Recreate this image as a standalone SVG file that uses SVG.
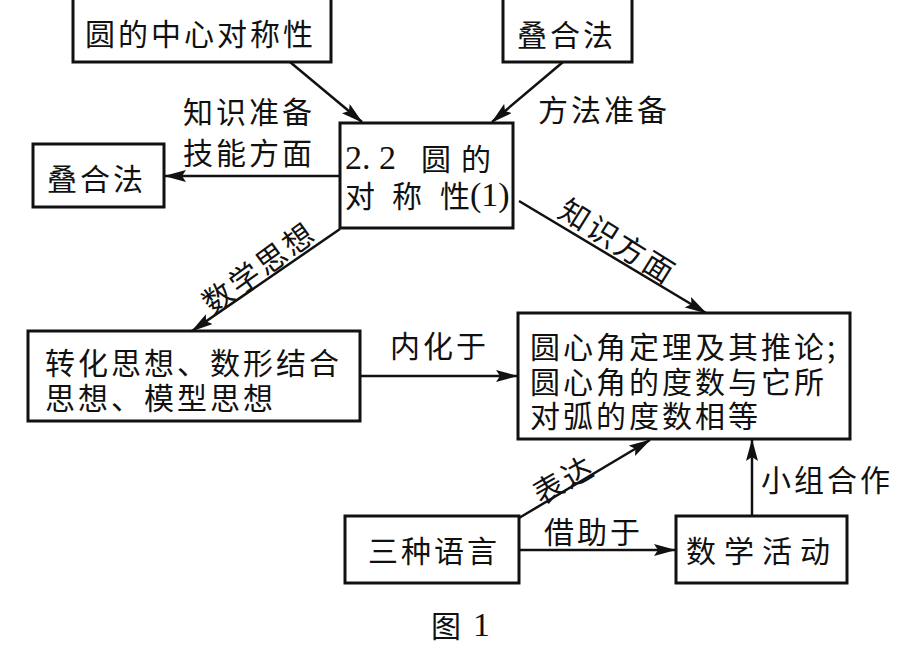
<svg xmlns="http://www.w3.org/2000/svg" width="921" height="648" viewBox="0 0 921 648">
<style>
.box{fill:#fff;stroke:#111;stroke-width:3}
.t{font-family:"Noto Sans CJK SC","Noto Sans CJK JP",sans-serif;font-size:30px;fill:#111;dominant-baseline:central;letter-spacing:3px}
.n{font-family:"Liberation Serif",serif;font-size:34px;fill:#111;dominant-baseline:central}
.c{stroke:#111;stroke-width:2.5;fill:none;marker-end:url(#ah)}
</style>
<defs>
<marker id="ah" markerUnits="userSpaceOnUse" viewBox="0 0 22 12" refX="21" refY="6" markerWidth="22" markerHeight="12" orient="auto">
<path d="M0,0 L22,6 L0,12 L4,6 z" fill="#111"/>
</marker>
</defs>
<rect width="921" height="648" fill="#fff"/>
<g id="connectors">
<line class="c" x1="290" y1="62" x2="362" y2="122"/>
<line class="c" x1="563" y1="62" x2="492" y2="122"/>
<line class="c" x1="340" y1="176" x2="165" y2="176"/>
<line class="c" x1="340" y1="229" x2="192" y2="331"/>
<line class="c" x1="519" y1="201" x2="706" y2="313"/>
<line class="c" x1="360" y1="376" x2="517" y2="376"/>
<line class="c" x1="519" y1="518" x2="650" y2="440"/>
<line class="c" x1="519" y1="550" x2="675" y2="550"/>
<line class="c" x1="752" y1="516" x2="752" y2="440"/>
<text class="t" x="183" y="110">知识准备</text>
<text class="t" x="183" y="151">技能方面</text>
<text class="t" x="538" y="108">方法准备</text>
<text class="t" x="390" y="344">内化于</text>
<text class="t" x="544" y="530">借助于</text>
<text class="t" x="761" y="478">小组合作</text>
<text class="t" text-anchor="middle" transform="translate(619,240) rotate(32)">知识方面</text>
<text class="t" text-anchor="middle" transform="translate(258,266) rotate(-36)">数学思想</text>
<text class="t" text-anchor="middle" transform="translate(563,478) rotate(-30)">表达</text>
</g>
<g id="n1">
<rect class="box" x="73" y="-2" width="258" height="64"/>
<text class="t" x="85" y="32">圆的中心对称性</text>
</g>
<g id="n2">
<rect class="box" x="503" y="-2" width="129" height="64"/>
<text class="t" x="517" y="33">叠合法</text>
</g>
<g id="n3">
<rect class="box" x="340" y="123" width="173" height="105"/>
<text class="n" x="345" y="157">2. 2</text>
<text class="t" x="421" y="157">圆</text>
<text class="t" x="461" y="157">的</text>
<text class="t" x="345" y="194">对</text>
<text class="t" x="392" y="194">称</text>
<text class="t" x="440" y="194">性</text>
<text class="n" x="470" y="194" font-size="32">(1)</text>
</g>
<g id="n4">
<rect class="box" x="33" y="144" width="131" height="63"/>
<text class="t" x="47" y="177">叠合法</text>
</g>
<g id="n5">
<rect class="box" x="28" y="331" width="332" height="90"/>
<text class="t" x="45" y="361">转化思想、数形结合</text>
<text class="t" x="45" y="396">思想、模型思想</text>
</g>
<g id="n6">
<rect class="box" x="518" y="313" width="332" height="126"/>
<text class="t" x="530" y="345">圆心角定理及其推论;</text>
<text class="t" x="530" y="380">圆心角的度数与它所</text>
<text class="t" x="530" y="414">对弧的度数相等</text>
</g>
<g id="n7">
<rect class="box" x="345" y="516" width="174" height="67"/>
<text class="t" x="368" y="549">三种语言</text>
</g>
<g id="n8">
<rect class="box" x="676" y="516" width="171" height="67"/>
<text class="t" x="686" y="549" style="letter-spacing:8px">数学活动</text>
</g>
<text class="t" x="431" y="624">图</text>
<text class="n" x="473" y="624" font-size="30">1</text>
</svg>
